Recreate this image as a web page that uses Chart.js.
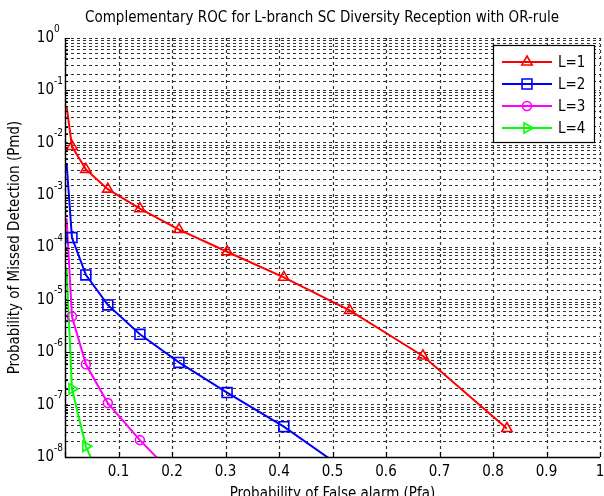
<!DOCTYPE html>
<html>
<head>
<meta charset="utf-8">
<script src="https://cdn.jsdelivr.net/npm/chart.js@4.4.1/dist/chart.umd.min.js"></script>
<style>
  html, body { margin: 0; padding: 0; background: #fff; overflow: hidden; }
  #wrap { width: 604px; height: 496px; overflow: hidden; }
  canvas { display: block; }
</style>
</head>
<body>
<div id="wrap"><canvas id="roc" width="612" height="505"></canvas></div>
<script>
// Pfa values where the curves are sampled (first one has no marker)
const pfa = [0.003, 0.013, 0.039, 0.080, 0.140, 0.213, 0.303, 0.409, 0.532, 0.669, 0.826];

// Pmd for each number of branches (last entries of L=2..4 fall below the axis)
const pmdL1 = [5e-2, 8.5e-3, 3.1e-3, 1.3e-3, 5.5e-4, 2.2e-4, 8.3e-5, 2.7e-5, 6.3e-6, 8.5e-7, 3.5e-8];
const pmdL2 = [4e-3, 1.55e-4, 3.0e-5, 8e-6, 2.2e-6, 6.4e-7, 1.7e-7, 3.8e-8, 5e-9];
const pmdL3 = [3.6e-4, 4.8e-6, 5.9e-7, 1.07e-7, 2.1e-8, 3.6e-9];
const pmdL4 = [4e-5, 2e-7, 1.6e-8, 1.8e-9];

const seriesNames = ["L=1", "L=2", "L=3", "L=4"];
const xTicks = [0, 0.1, 0.2, 0.3, 0.4, 0.5, 0.6, 0.7, 0.8, 0.9, 1];
const yDecades = [0, -1, -2, -3, -4, -5, -6, -7, -8];
const titleText = "Complementary ROC for L-branch SC Diversity Reception with OR-rule";

const FONT = '"DejaVu Sans Condensed", "DejaVu Sans", sans-serif';

function pts(ys) {
    return ys.map((y, i) => ({ x: pfa[i], y: y }));
}

function markerRadius(r) {
    return ctx => (ctx.dataIndex === 0 || (ctx.raw && ctx.raw.y < 1e-8)) ? 0 : r;
}

function makeSet(label, ys, color, style, r, rot) {
    return {
        label: label,
        data: pts(ys),
        borderColor: color,
        borderWidth: 2,
        pointStyle: style,
        pointRotation: rot || 0,
        pointRadius: markerRadius(r),
        legendRadius: r,
        pointBorderColor: color,
        pointBackgroundColor: 'rgba(0,0,0,0)',
        pointBorderWidth: 1.6,
        tension: 0
    };
}

function isDecade(v) {
    const e = Math.log10(v);
    return Math.abs(e - Math.round(e)) < 1e-6;
}

// vertical dashed grid (x scale) under the lines
const xGrid = {
    id: 'xGrid',
    beforeDatasetsDraw(chart) {
        const c = chart.ctx, a = chart.chartArea, xs = chart.scales.x;
        c.save();
        c.strokeStyle = '#333';
        c.lineWidth = 1.2;
        c.setLineDash([3, 3]);
        xTicks.forEach(v => {
            const px = Math.round(xs.getPixelForValue(v)) + 0.5;
            c.beginPath();
            c.moveTo(px, a.top);
            c.lineTo(px, a.bottom);
            c.stroke();
        });
        c.restore();
    }
};

// title, superscript exponents, inner tick marks, legend box
const extras = {
    id: 'extras',
    afterDraw(chart) {
        const c = chart.ctx, a = chart.chartArea;
        const ys = chart.scales.y, xs = chart.scales.x;
        c.save();

        // axis lines
        c.strokeStyle = '#000';
        c.lineWidth = 1.4;
        c.beginPath();
        c.moveTo(a.left + 0.5, a.top);
        c.lineTo(a.left + 0.5, a.bottom + 0.5);
        c.lineTo(a.right, a.bottom + 0.5);
        c.stroke();

        // inner tick marks
        c.lineWidth = 1.2;
        c.beginPath();
        xTicks.forEach(v => {
            const px = Math.round(xs.getPixelForValue(v)) + 0.5;
            c.moveTo(px, a.bottom);
            c.lineTo(px, a.bottom - 5);
        });
        ys.ticks.forEach(t => {
            const py = Math.round(ys.getPixelForValue(t.value)) + 0.5;
            c.moveTo(a.left, py);
            c.lineTo(a.left + (isDecade(t.value) ? 5 : 3), py);
        });
        c.stroke();

        // title
        c.fillStyle = '#000';
        c.font = '15px ' + FONT;
        c.textAlign = 'center';
        c.textBaseline = 'middle';
        c.fillText(titleText, 322, 18);

        // exponents
        c.font = '10px ' + FONT;
        c.textAlign = 'left';
        yDecades.forEach(e => {
            const py = ys.getPixelForValue(Math.pow(10, e));
            c.fillText(String(e), a.left - 11, py - 9);
        });

        // legend
        const bx = 493, by = 45, bw = 101, bh = 97;
        c.fillStyle = '#fff';
        c.fillRect(bx, by, bw, bh);
        c.strokeStyle = '#000';
        c.lineWidth = 1.2;
        c.strokeRect(bx + 0.5, by + 0.5, bw, bh);
        c.font = '15px ' + FONT;
        chart.data.datasets.forEach((ds, i) => {
            const ry = by + 17 + i * 22;
            c.strokeStyle = ds.borderColor;
            c.lineWidth = 2;
            c.beginPath();
            c.moveTo(bx + 9, ry);
            c.lineTo(bx + 59, ry);
            c.stroke();
            c.lineWidth = ds.pointBorderWidth;
            c.fillStyle = 'rgba(0,0,0,0)';
            Chart.helpers.drawPoint(c, {
                pointStyle: ds.pointStyle,
                rotation: ds.pointRotation,
                radius: ds.legendRadius,
                borderWidth: ds.pointBorderWidth
            }, bx + 34, ry);
            c.fillStyle = '#000';
            c.fillText(seriesNames[i], bx + 65, ry + 1);
        });
        c.restore();
    }
};

const ctx = document.getElementById("roc").getContext("2d");
new Chart(ctx, {
    type: "line",
    data: {
        datasets: [
            makeSet(seriesNames[0], pmdL1, '#ff0000', 'triangle', 6),
            makeSet(seriesNames[1], pmdL2, '#0000ff', 'rect', 7),
            makeSet(seriesNames[2], pmdL3, '#ff00ff', 'circle', 4.5),
            makeSet(seriesNames[3], pmdL4, '#00ff00', 'triangle', 6, 90)
        ]
    },
    options: {
        responsive: false,
        animation: false,
        layout: { padding: { left: 0, right: 12, top: 38, bottom: 0 } },
        plugins: {
            legend: { display: false },
            tooltip: { enabled: false },
            title: { display: false }
        },
        scales: {
            x: {
                type: 'linear',
                min: 0,
                max: 1,
                afterFit: s => { s.height = 48; },
                ticks: {
                    stepSize: 0.1,
                    color: '#000',
                    font: { family: FONT, size: 15 },
                    padding: 6,
                    maxRotation: 0,
                    autoSkip: false,
                    callback: v => v === 0 ? '' : String(Math.round(v * 10) / 10)
                },
                grid: { display: false, drawTicks: false },
                border: { display: false },
                title: {
                    display: true,
                    text: "Probability of False alarm (Pfa)",
                    color: '#000',
                    font: { family: FONT, size: 15 },
                    padding: { top: 0, bottom: 2 }
                }
            },
            y: {
                type: 'logarithmic',
                min: 1e-8,
                max: 1,
                afterFit: s => { s.width = 65; },
                ticks: {
                    color: '#000',
                    font: { family: FONT, size: 15 },
                    padding: 11,
                    autoSkip: false,
                    callback: v => isDecade(v) ? '10' : ''
                },
                grid: { color: '#333', lineWidth: 1, drawTicks: false },
                border: { display: false, dash: [3, 3] },
                title: {
                    display: true,
                    text: "Probability of Missed Detection (Pmd)",
                    color: '#000',
                    font: { family: FONT, size: 15 },
                    padding: { top: 6, bottom: 0 }
                }
            }
        }
    },
    plugins: [xGrid, extras]
});
</script>
</body>
</html>
